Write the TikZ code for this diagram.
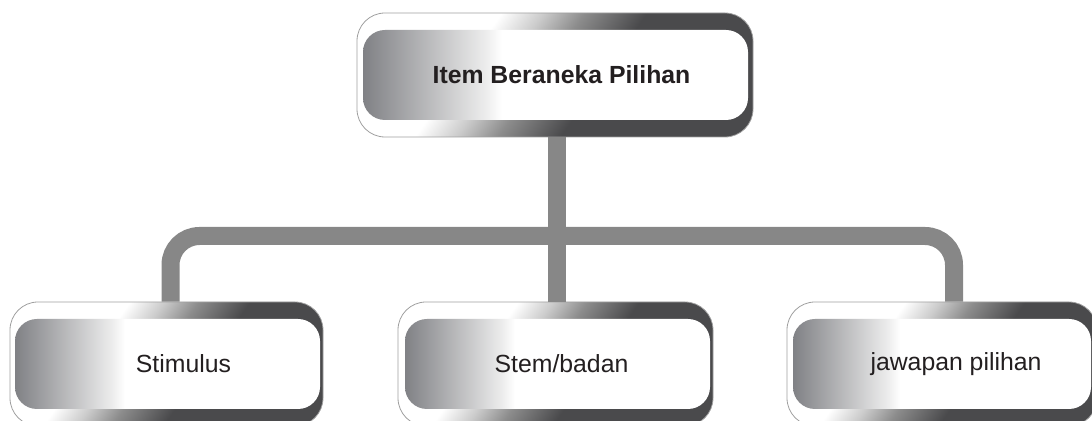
\documentclass[tikz,border=0pt]{standalone}
\usepackage{fontspec}
\setmainfont{Liberation Sans}
\usetikzlibrary{calc, positioning}
\definecolor{boxdark}{RGB}{74,74,76}
\definecolor{framegray}{RGB}{160,160,160}
\definecolor{panelgray}{RGB}{128,129,133}
\definecolor{bargray}{RGB}{135,135,135}
\definecolor{textblack}{RGB}{35,31,32}
% Shadings of the boxes
\pgfdeclarehorizontalshading{outershade}{100bp}{color(0bp)=(white);
  color(36bp)=(white); color(42bp)=(black!20); color(48bp)=(black!45);
  color(57bp)=(boxdark); color(100bp)=(boxdark)}
\pgfdeclarehorizontalshading{panelshade}{100bp}{color(0bp)=(panelgray);
  color(25bp)=(panelgray); color(41bp)=(black!7); color(43bp)=(white);
  color(100bp)=(white)}
\tikzset{
  font=\fontsize{12.4}{14}\selectfont,
  % Outer frame of a box
  frame/.style={shade, shading=outershade, shading angle=-35, draw=framegray,
    line width=0.4pt, rounded corners=14pt, minimum height=62pt, inner sep=0pt},
  % Inner panel of a box
  panel/.style={shade, shading=panelshade, rounded corners=11pt,
    minimum height=45pt, inner sep=0pt},
  % Box label
  boxtext/.style={text=textblack, inner sep=0pt},
  % Connector bar
  bar/.style={draw=bargray, line width=9pt, rounded corners=14.5pt},
}

\begin{document}
\begin{tikzpicture}[x=0.5pt, y=-0.5pt]
  \useasboundingbox (0,0) rectangle (1092,421);

  % top box
  \node[frame, minimum width=198pt] (item) at (555,75) {};
  \node[panel, minimum width=192.5pt] (itempanel) at (555.5,75) {};
  \node[boxtext, font=\fontsize{12.4}{14}\selectfont\bfseries]
    at ([xshift=3pt]itempanel.center) {Item Beraneka Pilihan};

  % bottom boxes
  \node[frame, minimum width=156.5pt] (stim) at (166.5,364) {};
  \node[panel, minimum width=152.5pt] (stimpanel) at (167.5,364) {};
  \node[boxtext] at ([xshift=8pt]stimpanel.center) {Stimulus};

  \node[frame, minimum width=157.5pt] (stem) at (555.5,364) {};
  \node[panel, minimum width=152.5pt] (stempanel) at (557.5,364) {};
  \node[boxtext] at ([xshift=2pt]stempanel.center) {Stem/badan};

  \node[frame, minimum width=155pt] (jaw) at (942,364) {};
  \node[panel, minimum width=149pt] (jawpanel) at (942,364) {};
  \node[boxtext] at ([xshift=7pt]jawpanel.center) {jawapan pilihan};

  % connectors
  \coordinate (fork) at (557,236);
  \draw[bar] ([xshift=1pt]item.south) -- ([xshift=1pt]item.south |- stem.north);
  \draw[bar] ([xshift=2pt]stim.north) |- (fork) -| ([xshift=6pt]jaw.north);
\end{tikzpicture}
\end{document}
